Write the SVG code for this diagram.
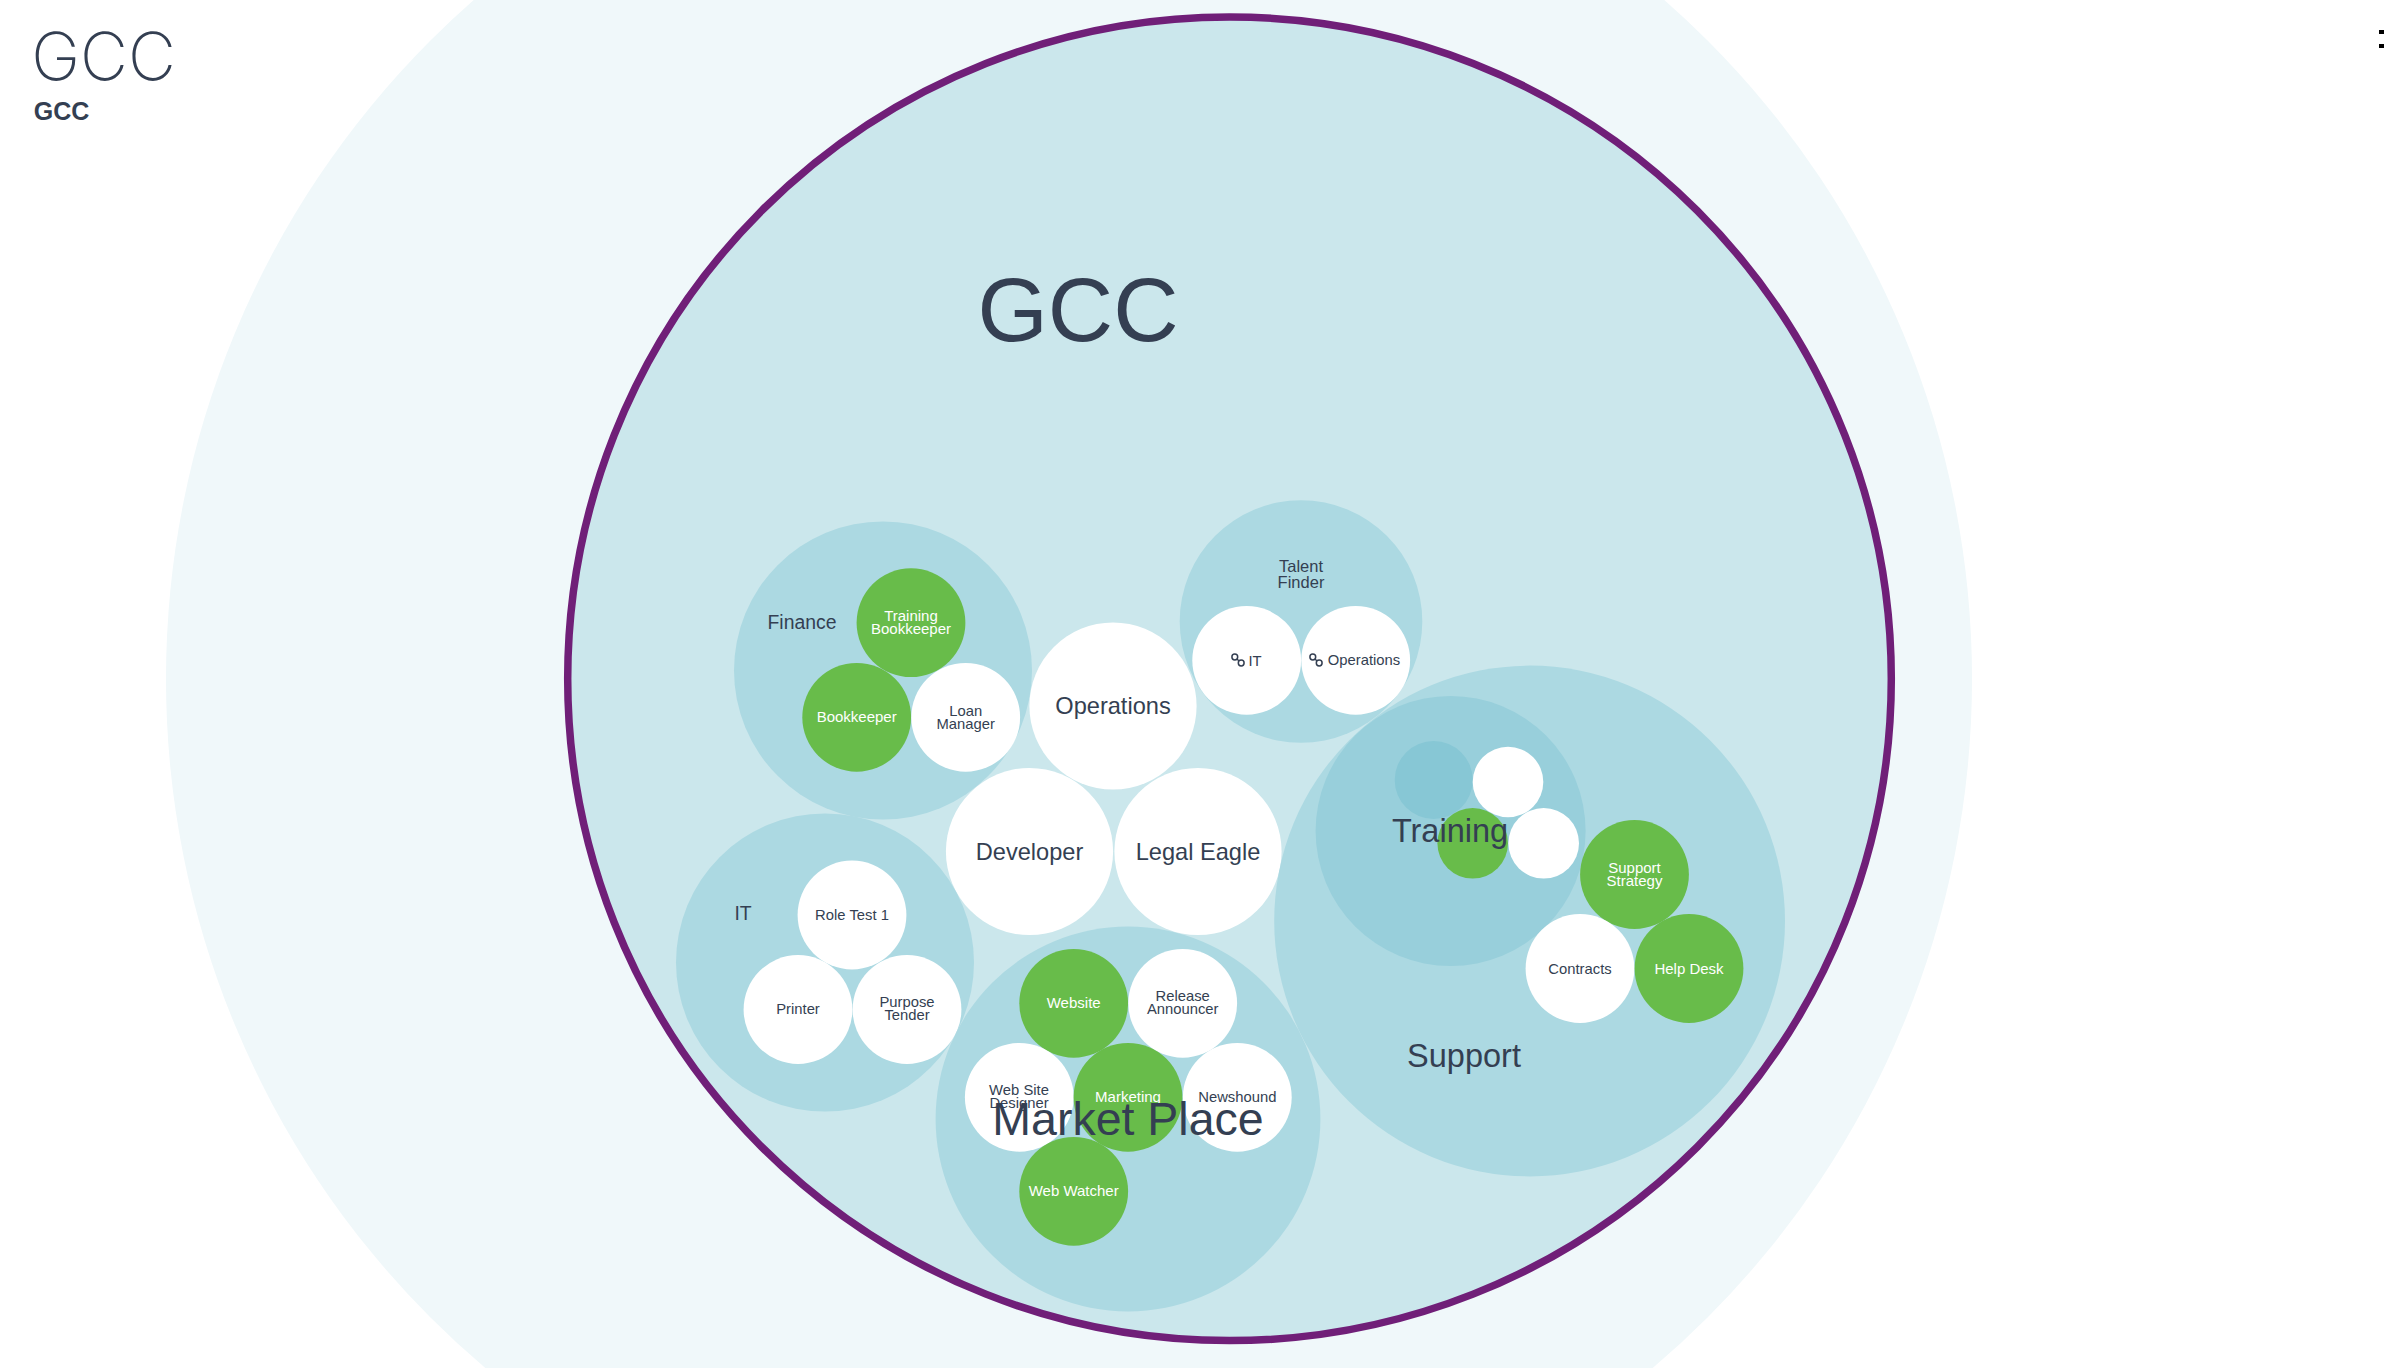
<svg xmlns="http://www.w3.org/2000/svg" width="2384" height="1368" viewBox="0 0 2384 1368">
<style>
text{font-family:"Liberation Sans",Arial,sans-serif;fill:#343f52;text-anchor:middle}
.w{fill:#fff}.g{fill:#68bc4a}.c{fill:#acd9e2}
.s{font-size:14.8px}.sw{font-size:15px;fill:#fff}
.m{font-size:19.4px}.l{font-size:23.6px}.xl{font-size:32.5px}
.link{fill:none;stroke:#343f52;stroke-width:1.5}
</style>
<defs>
<g id="chain" class="link"><circle cx="-3.2" cy="-3" r="2.9"/><circle cx="3.2" cy="3" r="2.9"/><path d="M-1.2-1 1.2 1"/></g>
</defs>
<rect width="2384" height="1368" fill="#fff"/>
<g id="outer"><circle cx="1069" cy="679" r="903" fill="#f0f8fa"/></g>
<g id="gcc"><circle cx="1229.500" cy="678.8" r="661.8" fill="#cbe7ec" stroke="#701f78" stroke-width="7.5"/><text x="1078" y="341" font-size="90.500">GCC</text></g>
<g id="finance"><circle class="c" cx="883" cy="670.5" r="149"/><text class="m" x="802" y="628.5">Finance</text></g>
<g id="training-bookkeeper"><circle class="g" cx="911" cy="622.7" r="54.4"/><text class="sw" x="911" y="620.5">Training</text><text class="sw" x="911" y="633.5">Bookkeeper</text></g>
<g id="bookkeeper"><circle class="g" cx="856.7" cy="717.3" r="54.4"/><text class="sw" x="856.7" y="722">Bookkeeper</text></g>
<g id="loan-manager"><circle class="w" cx="965.7" cy="717.3" r="54.4"/><text class="s" x="965.7" y="715.5">Loan</text><text class="s" x="965.7" y="728.5">Manager</text></g>
<g id="operations"><circle class="w" cx="1113" cy="706" r="83.6"/><text class="l" x="1113" y="714">Operations</text></g>
<g id="developer"><circle class="w" cx="1029.5" cy="851.5" r="83.6"/><text class="l" x="1029.5" y="859.5">Developer</text></g>
<g id="legal-eagle"><circle class="w" cx="1198" cy="851.5" r="83.6"/><text class="l" x="1198" y="859.5">Legal Eagle</text></g>
<g id="talent-finder"><circle class="c" cx="1301" cy="621.5" r="121.3"/><text x="1301" y="572" font-size="16.5">Talent</text><text x="1301" y="588" font-size="16.5">Finder</text></g>
<g id="tf-it"><circle class="w" cx="1246.7" cy="660.3" r="54.4"/><use href="#chain" x="1238" y="660"/><text class="s" x="1255" y="665.5">IT</text></g>
<g id="tf-operations"><circle class="w" cx="1355.7" cy="660.3" r="54.4"/><use href="#chain" x="1316" y="660"/><text class="s" x="1364" y="665">Operations</text></g>
<g id="support"><circle class="c" cx="1529.6" cy="921" r="255.4"/><text class="xl" x="1464" y="1067">Support</text></g>
<g id="training"><circle cx="1450.6" cy="831" r="135" fill="#98cfdb"/></g>
<g id="training-dark"><circle cx="1433.7" cy="780" r="39" fill="#87c7d5"/></g>
<g id="training-white-1"><circle class="w" cx="1508" cy="782" r="35.3"/></g>
<g id="training-green"><circle class="g" cx="1472.7" cy="843.3" r="35.3"/></g>
<g id="training-white-2"><circle class="w" cx="1543.7" cy="843.3" r="35.3"/></g>
<text class="xl" x="1450" y="842">Training</text>
<g id="support-strategy"><circle class="g" cx="1634.5" cy="874.5" r="54.4"/><text class="sw" x="1634.5" y="872.5">Support</text><text class="sw" x="1634.5" y="885.5">Strategy</text></g>
<g id="contracts"><circle class="w" cx="1580" cy="968.5" r="54.4"/><text class="s" x="1580" y="973.5">Contracts</text></g>
<g id="help-desk"><circle class="g" cx="1689" cy="968.5" r="54.4"/><text class="sw" x="1689" y="973.5">Help Desk</text></g>
<g id="it"><circle class="c" cx="825" cy="962.5" r="149"/><text class="m" x="743" y="920">IT</text></g>
<g id="role-test"><circle class="w" cx="852" cy="915" r="54.4"/><text class="s" x="852" y="920">Role Test 1</text></g>
<g id="printer"><circle class="w" cx="798" cy="1009.5" r="54.4"/><text class="s" x="798" y="1014">Printer</text></g>
<g id="purpose-tender"><circle class="w" cx="907" cy="1009.5" r="54.4"/><text class="s" x="907" y="1006.5">Purpose</text><text class="s" x="907" y="1019.5">Tender</text></g>
<g id="market-place"><circle class="c" cx="1128" cy="1119" r="192.4"/></g>
<g id="website"><circle class="g" cx="1073.7" cy="1003.3" r="54.4"/><text class="sw" x="1073.7" y="1008">Website</text></g>
<g id="release-announcer"><circle class="w" cx="1182.7" cy="1003.3" r="54.4"/><text class="s" x="1182.7" y="1000.5">Release</text><text class="s" x="1182.7" y="1013.5">Announcer</text></g>
<g id="web-site-designer"><circle class="w" cx="1019.3" cy="1097.3" r="54.4"/><text class="s" x="1019" y="1094.5">Web Site</text><text class="s" x="1019" y="1107.5">Designer</text></g>
<g id="marketing"><circle class="g" cx="1128" cy="1097.3" r="54.4"/><text class="sw" x="1128" y="1102">Marketing</text></g>
<g id="newshound"><circle class="w" cx="1237.3" cy="1097.3" r="54.4"/><text class="s" x="1237.3" y="1102">Newshound</text></g>
<g id="web-watcher"><circle class="g" cx="1073.7" cy="1191.3" r="54.4"/><text class="sw" x="1073.7" y="1196">Web Watcher</text></g>
<text x="1128" y="1135" font-size="46.5">Market Place</text>
<text x="103.500" y="80" font-size="66" style="font-family:Inter,'Liberation Sans',sans-serif;font-weight:200">GCC</text>
<text x="61.500" y="120" font-size="25" font-weight="700">GCC</text>
<rect x="2379" y="30" width="5" height="4" fill="#000"/><rect x="2379" y="44" width="5" height="4" fill="#000"/>
</svg>
